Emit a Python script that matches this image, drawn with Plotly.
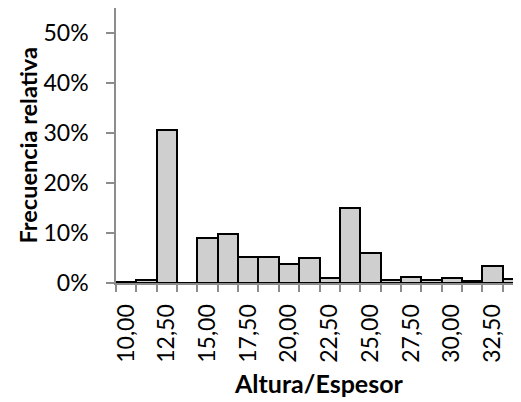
import plotly.graph_objects as go

# Data
bin_centers = [10.00, 11.25, 12.50, 13.75, 15.00, 16.25, 17.50, 18.75, 20.00, 21.25,
               22.50, 23.75, 25.00, 26.25, 27.50, 28.75, 30.00, 31.25, 32.50, 33.75]
rel_freq = [0.003, 0.006, 0.306, 0.0, 0.091, 0.099, 0.052, 0.053, 0.039, 0.050,
            0.010, 0.151, 0.061, 0.006, 0.013, 0.006, 0.011, 0.005, 0.035, 0.008]
tick_values = [10.00, 12.50, 15.00, 17.50, 20.00, 22.50, 25.00, 27.50, 30.00, 32.50]
tick_labels = ["10,00", "12,50", "15,00", "17,50", "20,00", "22,50", "25,00", "27,50", "30,00", "32,50"]
y_ticks = [0, 0.1, 0.2, 0.3, 0.4, 0.5]

step = bin_centers[1] - bin_centers[0]
boundaries = [c - step / 2 for c in bin_centers] + [bin_centers[-1] + step / 2]

# page body has an 8px margin, so the figure is sized to fit inside the window
W, H = 513, 394
ML, MR, MT, MB = 108, 0, 0, 119
plot_w = W - ML - MR
bar_px = 20.35
x_lo = bin_centers[0] - step / 2
x_hi = x_lo + plot_w / bar_px * step

FONT = "Lato, 'Open Sans', sans-serif"
AXIS_COLOR = "#8c8c8c"

fig = go.Figure()
fig.add_trace(go.Bar(
    x=bin_centers, y=rel_freq, width=[step] * len(bin_centers),
    marker=dict(color="#d0cfcf", line=dict(color="#000000", width=2)),
    showlegend=False,
))

fig.update_layout(
    width=W, height=H,
    margin=dict(l=ML, r=MR, t=MT, b=MB, pad=0),
    paper_bgcolor="white", plot_bgcolor="white",
    font=dict(family=FONT, color="#000000", size=23),
    bargap=0,
    xaxis=dict(
        range=[x_lo, x_hi],
        tickmode="array", tickvals=tick_values, ticktext=tick_labels,
        tickangle=-90, ticks="", showgrid=False, zeroline=False,
        showline=True, linecolor=AXIS_COLOR, linewidth=2,
        tickfont=dict(size=23), ticklabelstandoff=10,
        minor=dict(tickmode="array", tickvals=boundaries, ticks="outside",
                   ticklen=7, tickcolor=AXIS_COLOR, tickwidth=1.5, showgrid=False),
        automargin=False,
    ),
    yaxis=dict(
        range=[0, 0.55], tickmode="array", tickvals=y_ticks, tickformat=".0%",
        ticks="outside", ticklen=8, tickcolor=AXIS_COLOR, tickwidth=1.5,
        showgrid=False, zeroline=False,
        showline=True, linecolor=AXIS_COLOR, linewidth=1.5,
        tickfont=dict(size=23), ticklabelstandoff=13,
        automargin=False,
    ),
    annotations=[
        dict(text="<b>Altura/Espesor</b>", xref="paper", yref="paper", x=0.5, y=0,
             xanchor="center", yanchor="middle", yshift=-100, showarrow=False,
             font=dict(size=25)),
        dict(text="<b>Frecuencia relativa</b>", xref="paper", yref="paper", x=0, y=0.5,
             xanchor="center", yanchor="middle", xshift=-89, textangle=-90, showarrow=False,
             font=dict(size=23.5)),
    ],
)

fig.write_html("out.html")
